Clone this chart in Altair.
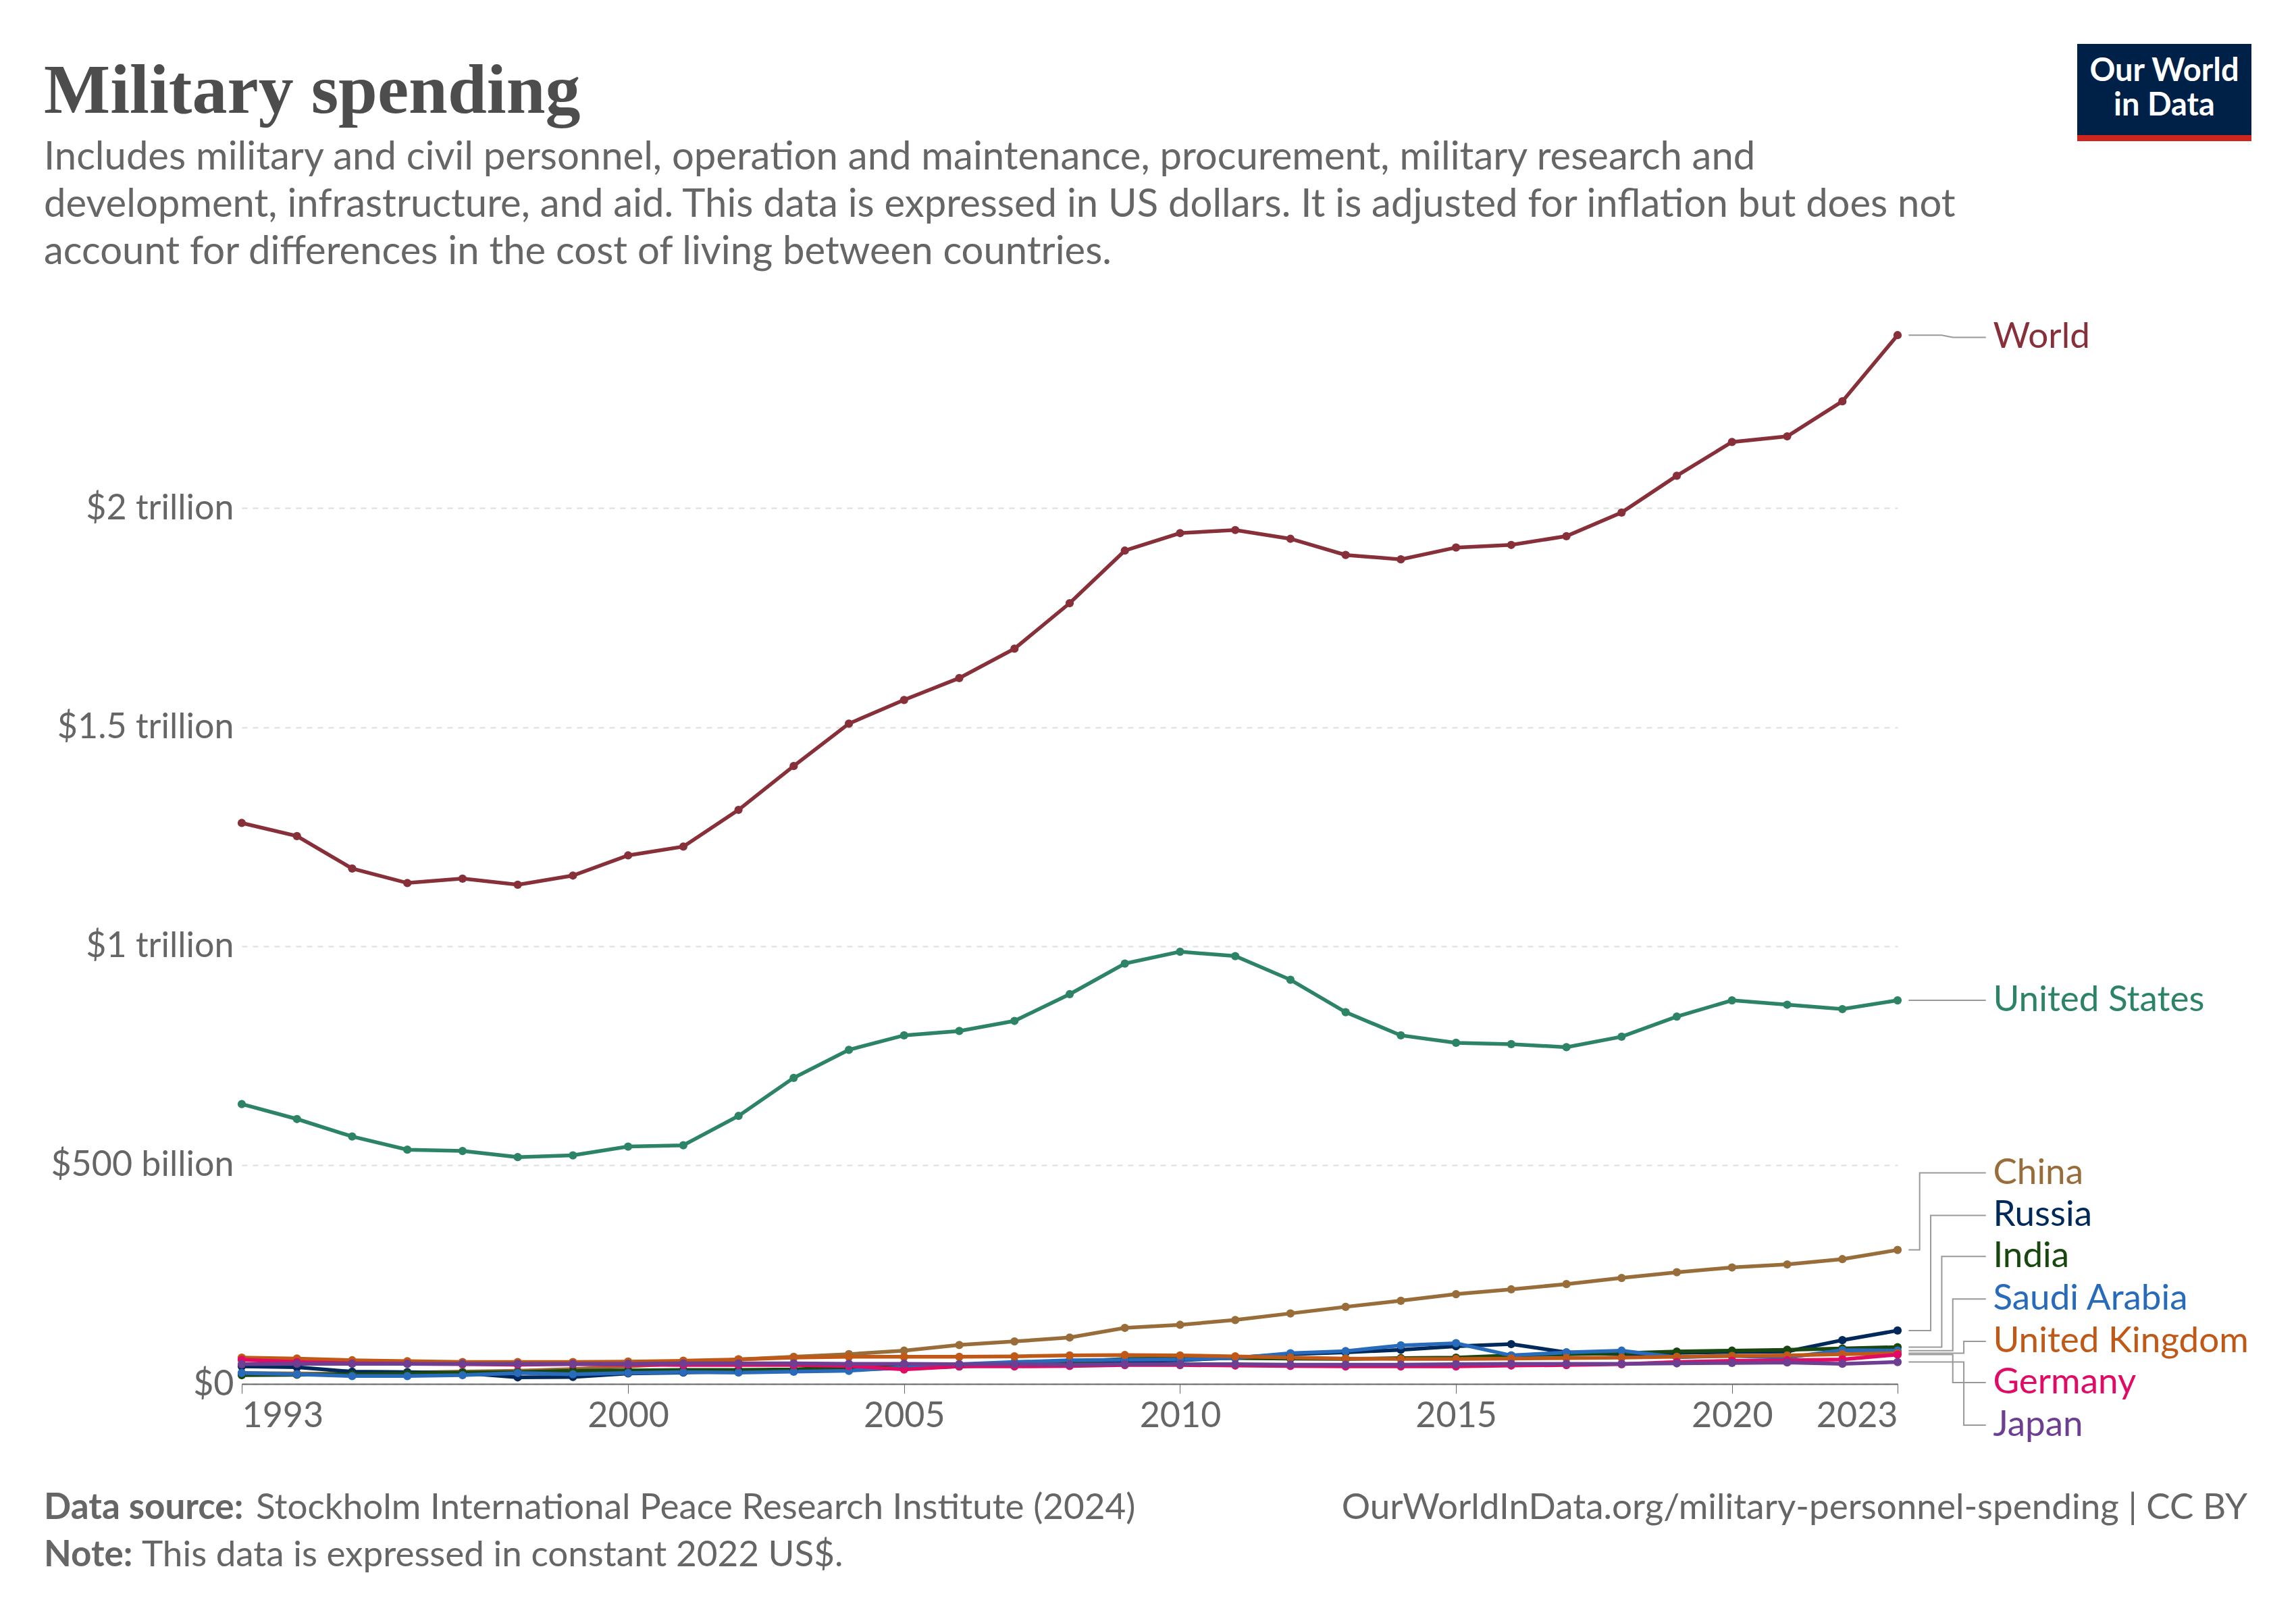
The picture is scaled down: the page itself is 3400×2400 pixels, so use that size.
import altair as alt
import pandas as pd

years = list(range(1993, 2024))

world = [1.281, 1.251, 1.177, 1.144, 1.154, 1.140, 1.161, 1.207, 1.227, 1.311, 1.411, 1.508, 1.562, 1.612,
         1.679, 1.783, 1.903, 1.943, 1.950, 1.930, 1.893, 1.883, 1.910, 1.916, 1.936, 1.990, 2.074, 2.151,
         2.164, 2.244, 2.395]
united_states = [0.639, 0.605, 0.565, 0.535, 0.532, 0.518, 0.522, 0.542, 0.545, 0.612, 0.699, 0.763, 0.796,
                 0.806, 0.829, 0.890, 0.960, 0.987, 0.977, 0.923, 0.849, 0.796, 0.779, 0.776, 0.769, 0.793,
                 0.839, 0.876, 0.866, 0.856, 0.876]
china = [0.025, 0.024, 0.023, 0.026, 0.028, 0.030, 0.034, 0.040, 0.047, 0.056, 0.062, 0.068, 0.076, 0.089,
         0.097, 0.106, 0.128, 0.135, 0.146, 0.161, 0.176, 0.190, 0.205, 0.216, 0.228, 0.242, 0.255, 0.266,
         0.273, 0.285, 0.306]
russia = [0.040, 0.038, 0.028, 0.027, 0.025, 0.015, 0.016, 0.024, 0.026, 0.029, 0.031, 0.033, 0.036, 0.040,
          0.044, 0.050, 0.053, 0.054, 0.060, 0.068, 0.072, 0.078, 0.086, 0.091, 0.072, 0.068, 0.071, 0.073,
          0.074, 0.100, 0.122]
india = [0.020, 0.021, 0.022, 0.024, 0.026, 0.027, 0.030, 0.031, 0.032, 0.032, 0.033, 0.038, 0.042, 0.043,
         0.045, 0.050, 0.057, 0.058, 0.059, 0.058, 0.057, 0.059, 0.060, 0.065, 0.068, 0.070, 0.074, 0.076,
         0.078, 0.081, 0.084]
saudi_arabia = [0.025, 0.022, 0.018, 0.018, 0.020, 0.025, 0.022, 0.025, 0.027, 0.026, 0.028, 0.030, 0.038,
                0.045, 0.050, 0.054, 0.055, 0.056, 0.059, 0.070, 0.075, 0.088, 0.093, 0.065, 0.072, 0.076,
                0.061, 0.064, 0.060, 0.077, 0.076]
united_kingdom = [0.060, 0.058, 0.054, 0.052, 0.050, 0.050, 0.050, 0.051, 0.053, 0.056, 0.060, 0.062, 0.062,
                  0.062, 0.063, 0.065, 0.066, 0.065, 0.063, 0.060, 0.058, 0.057, 0.057, 0.058, 0.059, 0.060,
                  0.062, 0.064, 0.065, 0.068, 0.070]
germany = [0.055, 0.050, 0.047, 0.046, 0.045, 0.044, 0.045, 0.044, 0.043, 0.043, 0.043, 0.041, 0.033, 0.040,
           0.040, 0.041, 0.043, 0.043, 0.042, 0.041, 0.040, 0.040, 0.040, 0.042, 0.043, 0.045, 0.050, 0.053,
           0.054, 0.056, 0.067]
japan = [0.045, 0.046, 0.046, 0.046, 0.046, 0.046, 0.046, 0.046, 0.047, 0.047, 0.047, 0.046, 0.046, 0.045,
         0.045, 0.044, 0.045, 0.045, 0.045, 0.044, 0.044, 0.044, 0.045, 0.046, 0.046, 0.046, 0.047, 0.048,
         0.049, 0.046, 0.050]

countries = ["World", "United States", "China", "Russia", "India", "Saudi Arabia",
             "United Kingdom", "Germany", "Japan"]
series = [world, united_states, china, russia, india, saudi_arabia, united_kingdom, germany, japan]
colors = ["#883039", "#2C8465", "#996D39", "#00295B", "#18470F", "#286BBB", "#C05917", "#E10B65", "#6D3E91"]
# label positions (trillions) where the right-hand labels sit
label_y = [2.39, 0.876, 0.482, 0.385, 0.291, 0.194, 0.097, 0.003, -0.094]
elbow_x = [2024.0, 2024.2, 2023.4, 2023.6, 2023.8, 2024.0, 2024.2, 2024.0, 2024.2]

rows = []
for c, vals in zip(countries, series):
    for y, v in zip(years, vals):
        rows.append({"country": c, "year": y, "value": v})
df = pd.DataFrame(rows)

conn = []
for c, vals, ly, ex in zip(countries, series, label_y, elbow_x):
    pts = [(2023.2, vals[-1]), (ex, vals[-1]), (ex, ly), (2024.6, ly)]
    if c in ("World", "United States"):
        pts = [(2023.2, vals[-1]), (2023.8, vals[-1]), (2024.0, ly), (2024.6, ly)]
    for i, (x, y) in enumerate(pts):
        conn.append({"country": c, "x": x, "y": y, "o": i})
conn_df = pd.DataFrame(conn)
lab_df = pd.DataFrame({"country": countries, "x": [2024.73] * 9, "y": label_y})

FONT = "Lato"
color_scale = alt.Scale(domain=countries, range=colors)
xs = alt.Scale(domain=[1993, 2023])
ys = alt.Scale(domain=[0, 2.4])

base = alt.Chart(df)
lines = base.mark_line(strokeWidth=5.5).encode(
    x=alt.X("year:Q", scale=xs, title=None,
            axis=alt.Axis(values=[1993, 2000, 2005, 2010, 2015, 2020, 2023], format="d",
                          labelFont=FONT, labelFontSize=52, labelColor="#666", labelPadding=8,
                          tickColor="#666", tickSize=14, domainColor="#666", domainWidth=2,
                          grid=False)),
    y=alt.Y("value:Q", scale=ys, title=None,
            axis=alt.Axis(values=[0, 0.5, 1, 1.5, 2], labelLimit=400,
                          labelExpr="datum.value == 0 ? '$0' : datum.value < 1 ? '$500 billion' : '$' + datum.value + ' trillion'",
                          labelFont=FONT, labelFontSize=52, labelColor="#666", labelPadding=12,
                          domain=False, ticks=False, gridDash=[8, 8], gridColor="#ddd", gridWidth=2)),
    color=alt.Color("country:N", scale=color_scale, legend=None),
    detail="country:N",
)
points = base.mark_circle(size=150, opacity=1).encode(
    x=alt.X("year:Q", scale=xs), y=alt.Y("value:Q", scale=ys),
    color=alt.Color("country:N", scale=color_scale, legend=None),
)
connectors = alt.Chart(conn_df).mark_line(color="#999", strokeWidth=2, clip=False).encode(
    x=alt.X("x:Q", scale=xs), y=alt.Y("y:Q", scale=ys), detail="country:N", order="o:Q"
)
labels = alt.Chart(lab_df).mark_text(align="left", baseline="middle", font=FONT, fontSize=53,
                                     clip=False).encode(
    x=alt.X("x:Q", scale=xs), y=alt.Y("y:Q", scale=ys), text="country:N",
    color=alt.Color("country:N", scale=color_scale, legend=None),
)

def txt(text, x, y, size, color="#5b5b5b", weight="normal", align="left", font=FONT):
    return alt.Chart(pd.DataFrame({"t": [text]})).mark_text(
        align=align, baseline="alphabetic", fontSize=size, color=color, fontWeight=weight, font=font
    ).encode(x=alt.value(x), y=alt.value(y), text="t:N")

deco = [
    txt("Military spending", -293, -326, 104, color="#4d4d4d", weight="bold", font="Liberation Serif"),
    txt("Includes military and civil personnel, operation and maintenance, procurement, military research and",
        -293, -242, 58, color="#666"),
    txt("development, infrastructure, and aid. This data is expressed in US dollars. It is adjusted for inflation but does not",
        -293, -172, 58, color="#666"),
    txt("account for differences in the cost of living between countries.", -293, -102, 58, color="#666"),
    txt("Data source:", -293, 1756, 53, color="#666", weight="bold"),
    txt("Stockholm International Peace Research Institute (2024)", 21, 1756, 53, color="#666"),
    txt("Note:", -293, 1826, 53, color="#666", weight="bold"),
    txt("This data is expressed in constant 2022 US$.", -148, 1826, 53, color="#666"),
    txt("OurWorldInData.org/military-personnel-spending | CC BY", 2970, 1756, 53, color="#666", align="right"),
]
logo = alt.Chart(pd.DataFrame({"a": [0]})).mark_rect(color="#002147").encode(
    x=alt.value(2718), x2=alt.value(2976), y=alt.value(-428), y2=alt.value(-293))
logo_bar = alt.Chart(pd.DataFrame({"a": [0]})).mark_rect(color="#CE261E").encode(
    x=alt.value(2718), x2=alt.value(2976), y=alt.value(-293), y2=alt.value(-284))
logo_t1 = txt("Our World", 2847, -373, 47, color="white", align="center", weight="bold")
logo_t2 = txt("in Data", 2847, -322, 47, color="white", align="center", weight="bold")

chart = alt.layer(lines, points, connectors, labels, *deco, logo, logo_bar, logo_t1, logo_t2).properties(
    width=2452, height=1556,
    autosize=alt.AutoSizeParams(type="none"),
    padding={"left": 350, "top": 485, "right": 582, "bottom": 343},
    background="white",
).configure_view(stroke=None)

chart.save("out.html", embed_options={"renderer": "svg", "actions": False})
